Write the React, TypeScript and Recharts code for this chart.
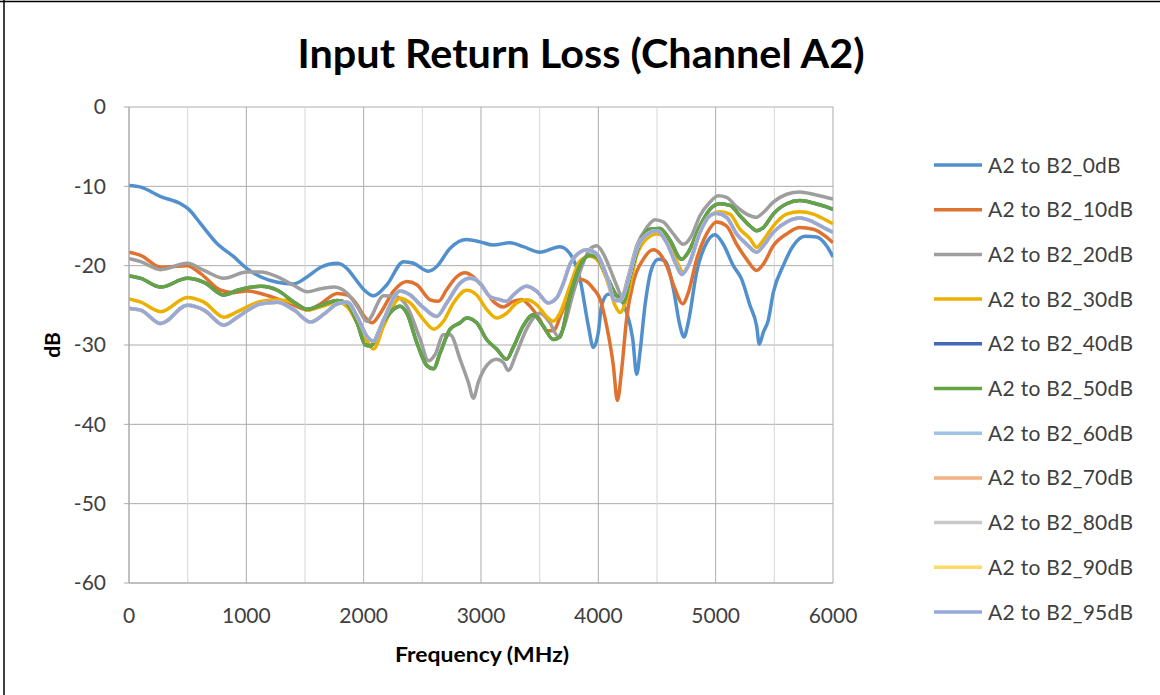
import { LineChart, Line, XAxis, YAxis, CartesianGrid, ReferenceLine } from 'recharts';

// [frequency MHz, return loss dB] per trace
const a2b2_0dB: [number, number][] = [
  [0, -9.9], [100, -10.1], [270, -11.3], [440, -12.2], [510, -12.9], [610, -14.7], [750, -17.2], [895, -18.9],
  [1000, -20.3], [1120, -21.4], [1265, -22.1], [1400, -22.3], [1520, -21.4], [1635, -20.2], [1775, -19.7], [1860, -20.4],
  [1915, -21.4], [2000, -23.0], [2085, -23.8], [2198, -22.4], [2340, -19.5], [2425, -19.7], [2552, -20.7], [2623, -20.1],
  [2737, -17.8], [2878, -16.7], [2991, -17.0], [3105, -17.4], [3247, -17.1], [3360, -17.6], [3502, -18.3], [3672, -17.6],
  [3759, -18.5], [3844, -21.7], [3915, -27.6], [3957, -30.3], [4000, -28.4], [4028, -25.0], [4085, -23.6], [4170, -23.8],
  [4241, -25.9], [4293, -29.2], [4327, -33.7], [4355, -30.9], [4398, -25.0], [4454, -20.4], [4511, -19.2], [4568, -19.4],
  [4639, -22.9], [4696, -27.6], [4730, -29.0], [4767, -27.1], [4838, -20.8], [4923, -17.1], [4994, -16.1], [5065, -17.3],
  [5150, -20.0], [5221, -21.7], [5292, -25.0], [5349, -27.6], [5372, -29.9], [5406, -28.4], [5448, -26.9], [5491, -23.4],
  [5576, -20.0], [5661, -17.5], [5761, -16.3], [5860, -16.4], [5945, -17.5], [6000, -18.9],
];

const a2b2_10dB: [number, number][] = [
  [0, -18.3], [100, -18.7], [270, -20.2], [497, -20.0], [611, -21.0], [782, -23.1], [895, -23.4], [1003, -23.2],
  [1123, -23.5], [1265, -24.2], [1407, -25.0], [1520, -25.6], [1634, -24.8], [1776, -23.5], [1861, -23.7], [1947, -25.0],
  [2000, -26.3], [2071, -27.2], [2142, -26.0], [2255, -23.2], [2368, -22.0], [2453, -22.4], [2567, -24.3], [2637, -24.5],
  [2708, -23.0], [2793, -21.4], [2864, -20.9], [2935, -21.4], [3020, -22.8], [3105, -24.5], [3190, -25.2], [3275, -24.5],
  [3346, -24.3], [3417, -25.1], [3502, -26.8], [3558, -28.2], [3615, -28.2], [3686, -26.0], [3785, -22.6], [3844, -21.7],
  [3900, -22.0], [3957, -22.9], [4014, -24.2], [4071, -27.6], [4128, -32.6], [4162, -37.0], [4199, -33.1], [4241, -26.7],
  [4298, -22.1], [4383, -19.2], [4469, -18.0], [4525, -18.5], [4582, -20.0], [4653, -22.9], [4719, -24.8], [4767, -23.4],
  [4838, -19.2], [4923, -16.0], [5008, -14.5], [5093, -15.0], [5179, -17.3], [5264, -19.2], [5349, -20.6], [5406, -19.8],
  [5491, -17.5], [5605, -16.0], [5718, -15.2], [5832, -15.4], [5945, -16.4], [6000, -17.1],
];

const a2b2_20dB: [number, number][] = [
  [0, -19.1], [100, -19.5], [270, -20.5], [497, -19.7], [639, -20.6], [810, -21.6], [1003, -20.8], [1123, -20.8],
  [1265, -21.4], [1407, -22.5], [1520, -23.3], [1634, -22.9], [1748, -22.7], [1861, -23.5], [1947, -25.2], [2028, -27.0],
  [2170, -23.8], [2269, -23.9], [2368, -25.1], [2482, -29.3], [2552, -32.0], [2609, -31.2], [2680, -28.7], [2737, -28.7],
  [2822, -31.8], [2892, -34.7], [2935, -36.7], [2977, -34.7], [3048, -32.6], [3133, -31.8], [3190, -32.2], [3232, -33.2],
  [3303, -31.0], [3388, -28.0], [3502, -26.0], [3587, -27.2], [3657, -28.9], [3700, -28.0], [3785, -23.5], [3870, -19.7],
  [3929, -17.9], [3986, -17.5], [4043, -18.5], [4100, -20.4], [4156, -22.5], [4199, -23.8], [4256, -21.3], [4327, -17.5],
  [4412, -15.2], [4483, -14.2], [4554, -14.5], [4639, -16.0], [4724, -17.3], [4795, -16.2], [4866, -13.7], [4951, -12.0],
  [5022, -11.2], [5093, -11.4], [5179, -12.6], [5264, -13.5], [5349, -13.9], [5406, -13.3], [5491, -12.0], [5605, -11.0],
  [5718, -10.7], [5832, -11.0], [5945, -11.4], [6000, -11.6],
];

const a2b2_30dB: [number, number][] = [
  [0, -24.2], [100, -24.6], [270, -25.8], [497, -24.0], [639, -24.6], [810, -26.5], [924, -25.8], [1123, -24.5],
  [1265, -24.3], [1407, -24.7], [1520, -25.6], [1634, -25.2], [1776, -24.6], [1861, -25.2], [1947, -27.3], [2032, -29.6],
  [2085, -30.5], [2170, -27.6], [2311, -24.1], [2397, -24.7], [2510, -26.8], [2595, -28.0], [2680, -27.0], [2765, -24.7],
  [2878, -23.1], [2963, -23.7], [3048, -25.5], [3133, -26.6], [3218, -26.0], [3303, -24.7], [3388, -24.3], [3473, -24.9],
  [3558, -26.4], [3615, -27.0], [3672, -26.0], [3757, -22.6], [3844, -19.4], [3929, -18.8], [3986, -19.2], [4071, -21.7],
  [4142, -25.0], [4185, -25.9], [4241, -24.2], [4327, -18.7], [4412, -16.6], [4497, -16.0], [4582, -16.6], [4667, -19.4],
  [4724, -20.8], [4781, -19.6], [4866, -15.8], [4951, -13.7], [5037, -13.2], [5122, -13.5], [5207, -15.4], [5292, -16.6],
  [5349, -17.7], [5406, -16.8], [5491, -15.0], [5605, -13.5], [5718, -13.2], [5832, -13.5], [5945, -14.3], [6000, -14.7],
];

const a2b2_50dB: [number, number][] = [
  [0, -21.3], [100, -21.6], [270, -22.7], [497, -21.6], [639, -22.1], [810, -23.7], [924, -23.1], [1123, -22.6],
  [1265, -23.1], [1407, -24.6], [1520, -25.5], [1634, -25.0], [1776, -24.4], [1861, -24.8], [1947, -27.3], [2014, -30.0],
  [2057, -30.1], [2170, -27.0], [2311, -25.1], [2368, -26.0], [2453, -29.7], [2538, -32.6], [2595, -33.0], [2652, -31.0],
  [2737, -28.0], [2822, -27.2], [2878, -26.6], [2963, -27.2], [3048, -29.3], [3133, -30.5], [3218, -31.8], [3275, -30.3],
  [3360, -27.6], [3445, -26.2], [3530, -27.6], [3615, -29.3], [3672, -29.0], [3759, -23.8], [3844, -20.0], [3929, -18.7],
  [3986, -18.9], [4071, -21.3], [4156, -23.8], [4213, -24.6], [4270, -21.3], [4355, -17.1], [4440, -15.4], [4525, -15.3],
  [4611, -16.8], [4710, -19.2], [4767, -18.3], [4866, -15.0], [4951, -12.9], [5037, -12.2], [5122, -12.4], [5207, -13.7],
  [5292, -15.0], [5349, -15.6], [5406, -15.2], [5491, -13.5], [5605, -12.2], [5718, -11.8], [5832, -12.1], [5945, -12.6],
  [6000, -12.9],
];

const a2b2_95dB: [number, number][] = [
  [0, -25.4], [100, -25.6], [270, -27.3], [497, -25.0], [639, -25.6], [810, -27.5], [924, -26.5], [1123, -24.8],
  [1265, -24.6], [1407, -25.6], [1548, -27.1], [1662, -26.1], [1776, -24.8], [1861, -24.6], [1947, -26.5], [2032, -29.0],
  [2085, -29.5], [2170, -26.8], [2311, -23.2], [2397, -23.7], [2510, -25.3], [2623, -26.4], [2708, -24.7], [2822, -22.2],
  [2907, -21.6], [2991, -22.2], [3077, -23.9], [3162, -24.3], [3218, -24.5], [3275, -23.7], [3388, -22.6], [3473, -23.2],
  [3572, -24.7], [3643, -24.1], [3700, -22.3], [3759, -19.8], [3844, -18.3], [3901, -18.0], [3986, -18.5], [4071, -21.3],
  [4142, -24.4], [4185, -24.4], [4241, -22.5], [4327, -17.9], [4412, -16.1], [4497, -15.6], [4582, -17.1], [4667, -20.0],
  [4710, -21.1], [4767, -20.0], [4866, -15.8], [4951, -13.7], [5008, -13.4], [5093, -13.9], [5179, -16.0], [5264, -17.3],
  [5349, -18.3], [5406, -17.5], [5491, -15.8], [5605, -14.5], [5718, -14.0], [5832, -14.5], [5945, -15.4], [6000, -15.8],
];

// the 40dB trace sits under 50dB and 60..90dB sit under 95dB in the picture
const a2b2_40dB = a2b2_50dB;
const a2b2_60dB = a2b2_95dB;
const a2b2_70dB = a2b2_95dB;
const a2b2_80dB = a2b2_95dB;
const a2b2_90dB = a2b2_95dB;

const seriesNames = [
  'A2 to B2_0dB', 'A2 to B2_10dB', 'A2 to B2_20dB', 'A2 to B2_30dB', 'A2 to B2_40dB', 'A2 to B2_50dB',
  'A2 to B2_60dB', 'A2 to B2_70dB', 'A2 to B2_80dB', 'A2 to B2_90dB', 'A2 to B2_95dB',
];
const seriesData = [
  a2b2_0dB, a2b2_10dB, a2b2_20dB, a2b2_30dB, a2b2_40dB, a2b2_50dB,
  a2b2_60dB, a2b2_70dB, a2b2_80dB, a2b2_90dB, a2b2_95dB,
];
const colors = [
  '#5190CC', '#DF7230', '#9E9E9E', '#EBB000', '#4169B8', '#66A343',
  '#9DC3E6', '#F4B183', '#C9C9C9', '#FFD966', '#97A9DA',
];

const xTicks = [0, 1000, 2000, 3000, 4000, 5000, 6000];
const xMinorLines = [500, 1500, 2500, 3500, 4500, 5500];
const yTicks = [-60, -50, -40, -30, -20, -10, 0];

const FONT = 'Lato, "Open Sans", sans-serif';

export default function App() {
  return (
    <div style={{ position: 'absolute', left: 0, top: 0, width: 1160, height: 695, background: '#fff', fontFamily: FONT }}>
      <LineChart width={1160} height={695} margin={{ top: 107, right: 327, bottom: 82, left: 69 }}>
        <CartesianGrid stroke="#ABABAB" />
        {xMinorLines.map((x) => (
          <ReferenceLine key={x} x={x} stroke="#D6D6D6" />
        ))}
        <XAxis
          type="number"
          dataKey="f"
          domain={[0, 6000]}
          ticks={xTicks}
          height={30}
          axisLine={{ stroke: '#ABABAB' }}
          tickLine={false}
          tickMargin={19}
          tick={{ fill: '#404040', fontSize: 21 }}
          allowDataOverflow
        />
        <YAxis
          type="number"
          domain={[-60, 0]}
          ticks={yTicks}
          width={60}
          axisLine={{ stroke: '#ABABAB' }}
          tickLine={{ stroke: '#ABABAB' }}
          tickSize={5}
          tickMargin={18}
          tick={{ fill: '#404040', fontSize: 21 }}
          allowDataOverflow
        />
        {seriesData.map((pts, i) => (
          <Line
            key={seriesNames[i]}
            name={seriesNames[i]}
            data={pts.map(([f, v]) => ({ f, v }))}
            dataKey="v"
            type="monotone"
            stroke={colors[i]}
            strokeWidth={3.5}
            dot={false}
            activeDot={false}
            isAnimationActive={false}
          />
        ))}
      </LineChart>
      <svg width={1160} height={695} style={{ position: 'absolute', left: 0, top: 0, pointerEvents: 'none' }}>
        <line x1={4} y1={0} x2={4} y2={695} stroke="#000" strokeWidth={1.5} />
        <line x1={0} y1={1.5} x2={1160} y2={1.5} stroke="#000" strokeWidth={1.5} />
        <text x={581} y={68} textAnchor="middle" fontSize={40} fontWeight={700} fill="#000" textLength={567} lengthAdjust="spacingAndGlyphs">
          Input Return Loss (Channel A2)
        </text>
        <text x={60} y={345} transform="rotate(-90 60 345)" textAnchor="middle" fontSize={21} fontWeight={700} fill="#000">
          dB
        </text>
        <text x={482} y={662} textAnchor="middle" fontSize={20} fontWeight={700} fill="#000" textLength={174} lengthAdjust="spacingAndGlyphs">
          Frequency (MHz)
        </text>
        {seriesNames.map((name, i) => {
          const y = 165 + i * 44.7;
          return (
            <g key={name}>
              <line x1={934} y1={y} x2={982} y2={y} stroke={colors[i]} strokeWidth={3.5} />
              <text x={988} y={y + 7.5} fontSize={21} letterSpacing={0.3} fill="#404040">
                {name}
              </text>
            </g>
          );
        })}
      </svg>
    </div>
  );
}
